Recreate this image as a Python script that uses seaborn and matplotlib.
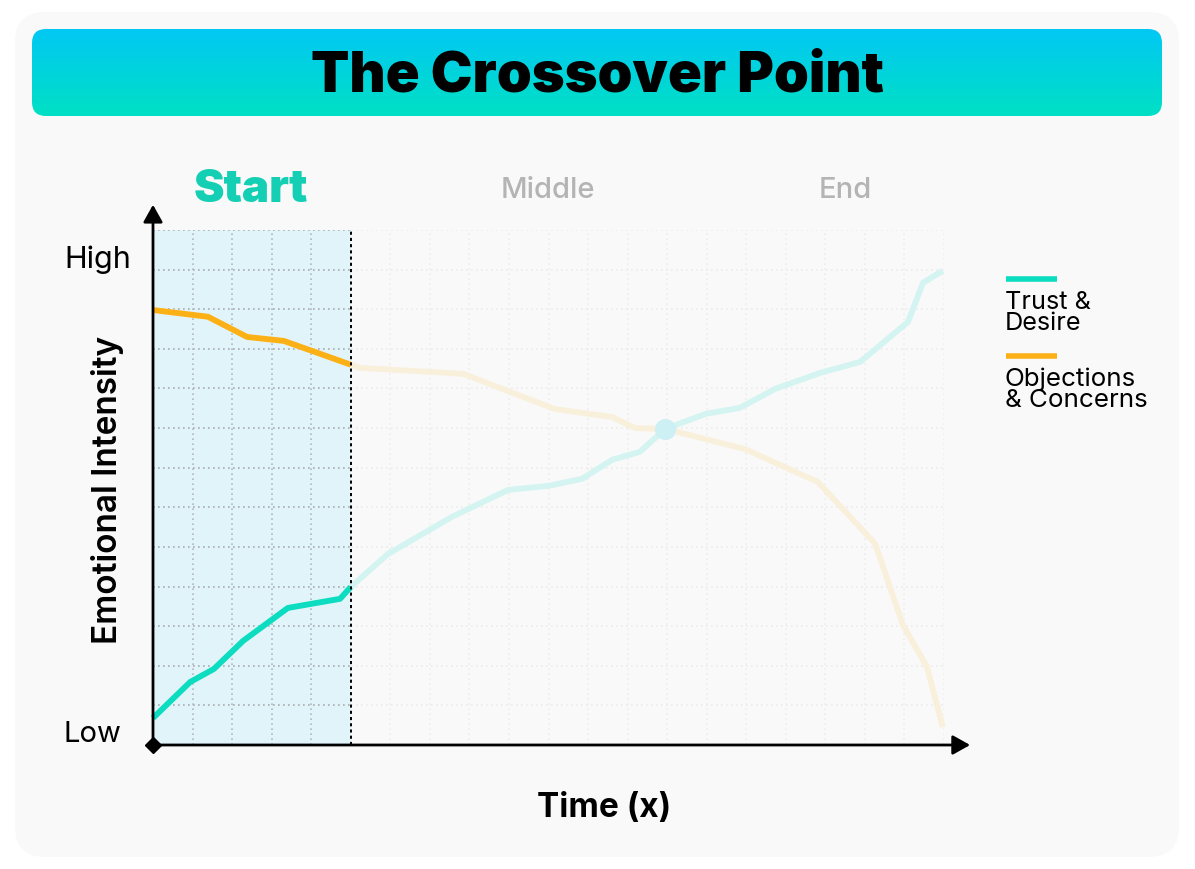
import numpy as np
import pandas as pd
import matplotlib
matplotlib.use("Agg")
import matplotlib.pyplot as plt
from matplotlib.patches import FancyBboxPatch
from matplotlib.lines import Line2D
import seaborn as sns

# values, x in grid cells of time, y in grid cells of intensity
trust_x = [0, 0.94, 1.54, 2.28, 3.41, 4.73, 5.0, 5.94, 7.56, 8.98, 9.99, 10.85, 11.61, 12.31, 12.95, 13.98, 14.84, 15.73, 16.86, 17.88, 19.09, 19.47, 19.97]
trust_y = [0.68, 1.59, 1.92, 2.63, 3.46, 3.69, 3.99, 4.82, 5.76, 6.44, 6.54, 6.72, 7.20, 7.40, 7.98, 8.36, 8.51, 8.99, 9.39, 9.67, 10.68, 11.67, 11.97]
obj_x = [0, 1.39, 2.38, 3.31, 5.0, 5.23, 7.84, 10.16, 11.61, 12.19, 12.95, 14.97, 16.81, 18.26, 18.96, 19.57, 19.97]
obj_y = [10.98, 10.81, 10.30, 10.20, 9.60, 9.52, 9.37, 8.48, 8.28, 8.00, 7.98, 7.47, 6.64, 5.08, 3.03, 1.97, 0.45]
cross_x = [12.95]
cross_y = [7.98]
start_end = 5
phases = ["Start", "Middle", "End"]

TEAL = "#0cdcbf"
ORANGE = "#fbb016"
W, H = 1195, 870

sns.set_theme(style="white")
plt.rcParams["font.family"] = ["Inter", "DejaVu Sans"]

df_trust = pd.DataFrame({"x": trust_x, "y": trust_y})
df_obj = pd.DataFrame({"x": obj_x, "y": obj_y})

fig = plt.figure(figsize=(W / 100, H / 100), dpi=100, facecolor="white")

# background layer in pixel coordinates
bg = fig.add_axes([0, 0, 1, 1], zorder=0)
bg.set_xlim(0, W)
bg.set_ylim(H - 1, -1)
bg.axis("off")
bg.add_patch(FancyBboxPatch((15 + 30, 12 + 30), 1164 - 60, 845 - 60, boxstyle="round,pad=30,rounding_size=30",
                            fc="#f9f9f9", ec="none"))
banner = FancyBboxPatch((32 + 14, 29 + 14), 1130 - 28, 87 - 28, boxstyle="round,pad=14,rounding_size=14",
                        fc="none", ec="none")
bg.add_patch(banner)
grad = np.linspace(0, 1, 256).reshape(-1, 1)
cmap = matplotlib.colors.LinearSegmentedColormap.from_list("banner", ["#02c8f4", "#00e0c4"])
img = bg.imshow(grad, extent=(32, 1162, 116, 29), aspect="auto", cmap=cmap, zorder=1)
img.set_clip_path(banner)
bg.set_xlim(0, W)
bg.set_ylim(H - 1, -1)

# chart
ax = fig.add_axes([153 / W, (H - 746) / H, 791 / W, 515 / H], zorder=1)
ax.patch.set_alpha(0)
ax.axvspan(0, start_end, color="#e1f4fa", lw=0, zorder=0)

dots = (0, (1, 2))
for i in range(14):
    ax.hlines(i, 0, start_end, color="#a8acae", lw=1.2, ls=dots, zorder=1)
    ax.hlines(i, start_end, 20, color="#ebebeb", lw=1.2, ls=dots, zorder=1)
for i in range(1, 21):
    if i < start_end:
        ax.vlines(i, 0, 13, color="#b4b8ba", lw=1.2, ls=dots, zorder=1)
    elif i > start_end:
        ax.vlines(i, 0, 13, color="#eeeeee", lw=1.2, ls=dots, zorder=1)
ax.vlines(start_end, 0, 13, color="black", lw=1.4, ls=(0, (1.6, 1.6)), zorder=4)

sns.lineplot(data=df_trust, x="x", y="y", color="#d3f4f1", lw=4.2, sort=False, estimator=None, ax=ax, zorder=2)
sns.lineplot(data=df_obj, x="x", y="y", color="#f9f0dc", lw=4.2, sort=False, estimator=None, ax=ax, zorder=2)
sns.lineplot(data=df_trust[df_trust.x <= start_end], x="x", y="y", color=TEAL, lw=4.2, sort=False,
             estimator=None, ax=ax, zorder=3)
sns.lineplot(data=df_obj[df_obj.x <= start_end], x="x", y="y", color=ORANGE, lw=4.2, sort=False,
             estimator=None, ax=ax, zorder=3)
sns.scatterplot(x=cross_x, y=cross_y, color="#cdf0f4", s=230, linewidth=0, ax=ax, zorder=4)

ax.set_xlim(0, 20)
ax.set_ylim(0, 13)
ax.set_xticks([])
ax.set_yticks([])
ax.set_xlabel("")
ax.set_ylabel("")
sns.despine(ax=ax, left=True, bottom=True)
for c in ax.lines:
    c.set_solid_capstyle("butt")
    c.set_clip_on(False)

# axes with arrow heads
head = dict(arrowstyle="-|>,head_length=0.75,head_width=0.42", color="black", lw=2, shrinkA=0, shrinkB=0,
            mutation_scale=14)
ax.annotate("", xy=(1.033, 0), xytext=(0, 0), xycoords="axes fraction", arrowprops=head, zorder=6)
ax.annotate("", xy=(0, 1.049), xytext=(0, 0), xycoords="axes fraction", arrowprops=head, zorder=6)
ax.plot([0], [0], marker="D", ms=8, color="black", clip_on=False, zorder=7)


def label(x, y, s, **kw):
    kw.setdefault("ha", "center")
    kw.setdefault("va", "center")
    fig.text(x / W, 1 - y / H, s, zorder=5, **kw)


label(597.5, 76, "The Crossover Point", fontsize=40.3, fontweight="black", color="black")
label(251, 190, phases[0], fontsize=33, fontweight="black", color="#14cfb4")
label(548, 190, phases[1], fontsize=21, fontweight="medium", color="#b4b4b4")
label(845, 190, phases[2], fontsize=21, fontweight="medium", color="#b4b4b4")
label(98, 260, "High", fontsize=22, color="black")
label(92.5, 735, "Low", fontsize=21, color="black")
label(108, 490, "Emotional Intensity", fontsize=24, fontweight="semibold", rotation=90, color="black")
label(604, 808, "Time (x)", fontsize=24, fontweight="bold", color="black")

# legend
fig.add_artist(Line2D([1006 / W, 1057 / W], [1 - 280 / H, 1 - 280 / H], color=TEAL, lw=4, solid_capstyle="butt"))
fig.add_artist(Line2D([1006 / W, 1057 / W], [1 - 357 / H, 1 - 357 / H], color=ORANGE, lw=4, solid_capstyle="butt"))
label(1005, 313, "Trust &\nDesire", ha="left", fontsize=18.2, linespacing=0.9, color="black")
label(1005, 390, "Objections\n& Concerns", ha="left", fontsize=18.7, linespacing=0.88, color="black")

fig.savefig("out.png", dpi=100)
